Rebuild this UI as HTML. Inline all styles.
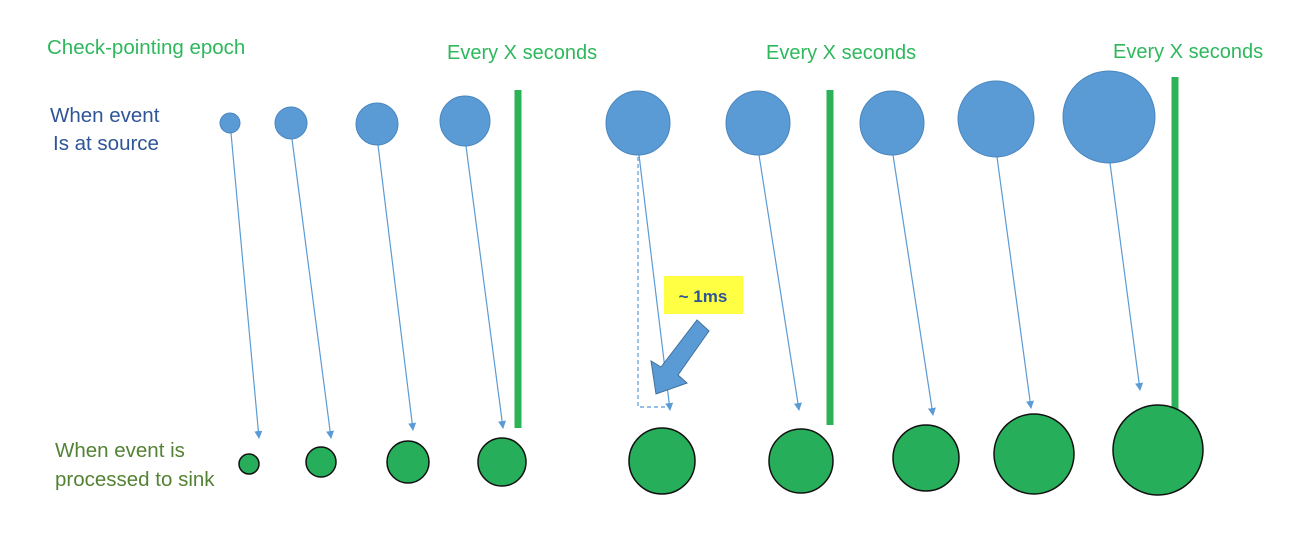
<!DOCTYPE html>
<html><head><meta charset="utf-8"><style>
html,body{margin:0;padding:0;background:#fff;width:1296px;height:538px;overflow:hidden}
svg{display:block}
text{font-family:"Liberation Sans",sans-serif}
</style></head><body>
<svg id="chart" width="1296" height="538" viewBox="0 0 1296 538" xmlns="http://www.w3.org/2000/svg">
<defs>
<marker id="ah" markerWidth="8" markerHeight="8" refX="7" refY="4" orient="auto" markerUnits="userSpaceOnUse">
<path d="M0,0 L8,4 L0,8 Z" fill="#5b9bd5"/>
</marker>
</defs>
<text x="47" y="54" font-size="20.5" fill="#2eb85c">Check-pointing epoch</text>
<text x="50" y="122" font-size="20.5" fill="#2f5597">When event</text>
<text x="53" y="150" font-size="20.5" fill="#2f5597">Is at source</text>
<text x="55" y="457" font-size="20.5" fill="#548235">When event is</text>
<text x="55" y="486" font-size="20.5" fill="#548235">processed to sink</text>
<g id="bars"></g>
<g id="arrows"></g>
<g id="src"></g>
<g id="sink"></g>
<path d="M638,157 L638,407 L668,407" fill="none" stroke="#5b9bd5" stroke-width="1.2" stroke-dasharray="4,3"/>
<rect x="664" y="276" width="79" height="38" fill="#ffff44"/>
<text x="703" y="302" font-size="17" font-weight="bold" fill="#2f5597" text-anchor="middle">~ 1ms</text>
<path d="M697,320 L709,331 L678,375 L687,383 L656,394 L651,361 L661,367 Z" fill="#5b9bd5" stroke="#41719c" stroke-width="1"/>
</svg>
<script>
const srcX=[230,291,377,465,638,758,892,996,1109];
const srcY=[123,123,124,121,123,123,123,119,117];
const srcR=[10,16,21,25,32,32,32,38,46];
const sinkX=[249,321,408,502,662,801,926,1034,1158];
const sinkY=[464,462,462,462,461,461,458,454,450];
const sinkR=[10,15,21,24,33,32,33,40,45];
const arrowEndX=[259,331,413,503,670,799,933,1031,1140];
const arrowEndY=[438,438,430,428,410,410,415,408,390];
const barX=[518,830,1175];
const barTop=[90,90,77];
const barBottom=[428,425,410];
const barLabels=["Every X seconds","Every X seconds","Every X seconds"];
const labelX=[447,766,1113];
const labelY=[59,59,58];
const NS="http://www.w3.org/2000/svg";
function mk(t,a,parent){const e=document.createElementNS(NS,t);for(const k in a)e.setAttribute(k,a[k]);document.getElementById(parent).appendChild(e);return e;}
for(let i=0;i<barX.length;i++){
  const r=mk('rect',{x:barX[i]-3.5,y:barTop[i],width:7,height:barBottom[i]-barTop[i],fill:'#2db357'},'bars');
  
  
  const t=mk('text',{x:labelX[i],y:labelY[i],'font-size':20,fill:'#2eb85c'},'bars');
  t.textContent=barLabels[i];
  
  
}
for(let i=0;i<srcX.length;i++){
  const l=mk('line',{x1:srcX[i]+1,y1:srcY[i]+srcR[i],x2:arrowEndX[i],y2:arrowEndY[i],stroke:'#5b9bd5','stroke-width':1.2,'marker-end':'url(#ah)'},'arrows');
  
  
  const c=mk('circle',{cx:srcX[i],cy:srcY[i],r:srcR[i],fill:'#5b9bd5',stroke:'#4a86be','stroke-width':1},'src');
  
  
  const s=mk('circle',{cx:sinkX[i],cy:sinkY[i],r:sinkR[i],fill:'#27ae5a',stroke:'#111','stroke-width':1.5},'sink');
  
  
}
</script>
</body></html>
